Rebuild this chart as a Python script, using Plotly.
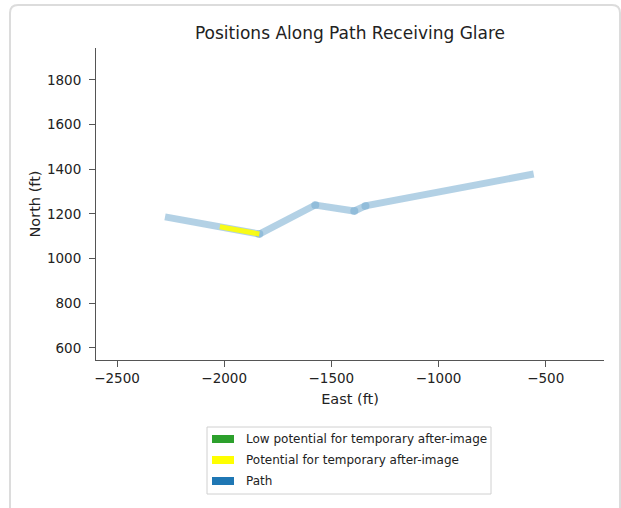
import plotly.graph_objects as go

# ---- data ----
path_east = [-2276, -1836, -1575, -1393, -1341, -556]
path_north = [1187, 1110, 1240, 1213, 1236, 1379]

glare_east = [-2020, -1836]
glare_north = [1143, 1110]

legend_labels = ["Low potential for temporary after-image",
                 "Potential for temporary after-image",
                 "Path"]
legend_colors = ["#2ca02c", "#ffff00", "#1f77b4"]

x_ticks = [-2500, -2000, -1500, -1000, -500]
y_ticks = [600, 800, 1000, 1200, 1400, 1600, 1800]

W, H = 621, 508
L, R, T, B = 96, 17, 48, 148
PW, PH = W - L - R, H - T - B

def px(x):
    return (x - L) / PW

def py(y):
    return (H - B - y) / PH

FONT = "DejaVu Sans"

fig = go.Figure()

# path line
fig.add_trace(go.Scatter(
    x=path_east, y=path_north, mode="lines",
    line=dict(color="rgba(31,119,180,0.34)", width=7),
    hoverinfo="skip", showlegend=False))
# vertex overlaps
fig.add_trace(go.Scatter(
    x=path_east[1:-1], y=path_north[1:-1], mode="markers",
    marker=dict(color="rgba(31,119,180,0.22)", size=8, line=dict(width=0)),
    hoverinfo="skip", showlegend=False))
# glare segment
fig.add_trace(go.Scatter(
    x=glare_east, y=glare_north, mode="lines",
    line=dict(color="rgba(255,255,0,0.9)", width=5),
    hoverinfo="skip", showlegend=False))

shapes = []
annotations = []

# figure border (rounded)
x0, x1 = px(10), px(620)
y0, y1 = py(512), py(5)
rx, ry = 8 / PW, 8 / PH
border_path = (f"M {x0},{y0} L {x0},{y1 - ry} Q {x0},{y1} {x0 + rx},{y1} "
               f"L {x1 - rx},{y1} Q {x1},{y1} {x1},{y1 - ry} L {x1},{y0}")
shapes.append(dict(type="path", xref="paper", yref="paper", path=border_path,
                   line=dict(color="#dcdcdc", width=2)))

# legend box
shapes.append(dict(type="rect", xref="paper", yref="paper",
                   x0=px(207), x1=px(491), y0=py(494), y1=py(427),
                   line=dict(color="#d0d0d0", width=1), fillcolor="white"))
for i, (lab, col) in enumerate(zip(legend_labels, legend_colors)):
    cy = 439 + i * 21
    shapes.append(dict(type="rect", xref="paper", yref="paper",
                       x0=px(212), x1=px(234), y0=py(cy + 4), y1=py(cy - 4),
                       line=dict(width=0), fillcolor=col))
    annotations.append(dict(xref="paper", yref="paper", x=px(244), y=py(cy),
                            xanchor="left", yanchor="middle", showarrow=False,
                            text=lab, font=dict(family=FONT, size=12, color="#222")))

fig.update_layout(
    width=W, height=H,
    margin=dict(l=L, r=R, t=T, b=B),
    paper_bgcolor="white", plot_bgcolor="white",
    font=dict(family=FONT, size=13.5, color="#222"),
    title=dict(text="Positions Along Path Receiving Glare", x=0.5 * (L + W - R) / W,
               xanchor="center", y=1 - 33 / H, yanchor="middle",
               font=dict(family=FONT, size=17, color="#222")),
    xaxis=dict(range=[-2598, -228], tickvals=x_ticks,
               ticktext=[f"\u2212{abs(v)}" for v in x_ticks],
               showgrid=False, zeroline=False, showline=True,
               linecolor="#555", linewidth=1, ticks="outside", ticklen=6,
               tickcolor="#555", ticklabelstandoff=0,
               title=dict(text="East (ft)", standoff=8, font=dict(size=14.5))),
    yaxis=dict(range=[546, 1943], tickvals=y_ticks,
               showgrid=False, zeroline=False, showline=True,
               linecolor="#555", linewidth=1, ticks="outside", ticklen=6,
               tickcolor="#555", ticklabelstandoff=5,
               title=dict(text="North (ft)", standoff=2, font=dict(size=14.5))),
    shapes=shapes, annotations=annotations,
    showlegend=False,
)

fig.write_html("out.html", config={"displayModeBar": False},
               post_script="document.body.style.margin='0';document.body.style.padding='0';")
